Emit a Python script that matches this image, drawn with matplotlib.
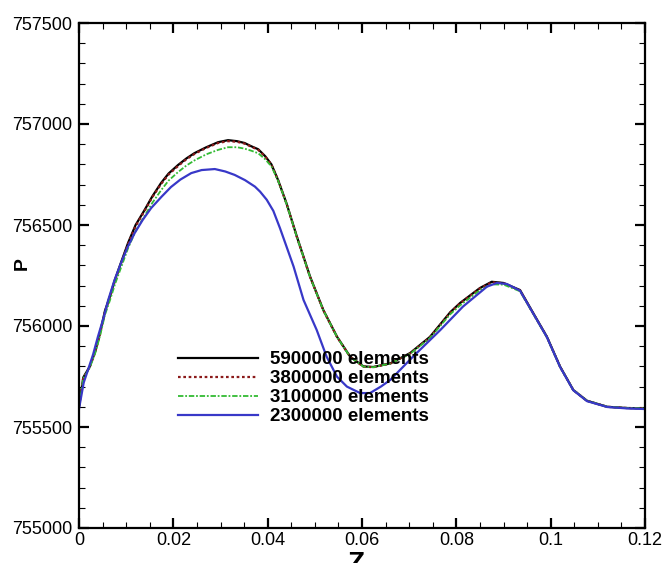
import matplotlib
matplotlib.use('Agg')
import matplotlib.pyplot as plt
from matplotlib.ticker import MultipleLocator, FuncFormatter

plt.rcParams['font.family'] = ['Liberation Sans', 'DejaVu Sans']

# 5900000 elements
z_5900 = [0, 0.0009, 0.0023, 0.0035, 0.0045, 0.0055, 0.0066, 0.0076, 0.009, 0.0104,
          0.012, 0.0139, 0.0155, 0.0174, 0.019, 0.021, 0.0228, 0.0245, 0.027, 0.0295,
          0.0316, 0.0335, 0.0351, 0.0365, 0.038, 0.0395, 0.0408, 0.0422, 0.044, 0.0462,
          0.049, 0.0518, 0.0547, 0.0575, 0.0603, 0.0624, 0.066, 0.0702, 0.0744, 0.0787,
          0.0808, 0.085, 0.0875, 0.09, 0.0935, 0.0963, 0.0992, 0.102, 0.1048, 0.1077,
          0.112, 0.1162, 0.12]
p_5900 = [755600, 755745, 755800, 755880, 755970, 756075, 756150, 756228, 756320, 756411,
          756500, 756574, 756640, 756708, 756755, 756797, 756830, 756856, 756885, 756910,
          756920, 756915, 756906, 756890, 756875, 756840, 756800, 756723, 756607, 756442,
          756244, 756079, 755947, 755848, 755800, 755797, 755815, 755866, 755946, 756068,
          756114, 756188, 756219, 756213, 756178, 756064, 755947, 755799, 755683, 755630,
          755600, 755594, 755592]

# 3800000 elements
z_3800 = z_5900
p_3800 = [755600, 755742, 755798, 755876, 755965, 756070, 756146, 756222, 756315, 756405,
          756494, 756570, 756636, 756703, 756750, 756792, 756826, 756852, 756882, 756906,
          756915, 756912, 756903, 756888, 756872, 756838, 756798, 756722, 756605, 756440,
          756242, 756078, 755946, 755847, 755799, 755796, 755814, 755864, 755944, 756066,
          756112, 756186, 756216, 756212, 756176, 756062, 755946, 755798, 755683, 755630,
          755600, 755594, 755592]

# 3100000 elements
z_3100 = z_5900
p_3100 = [755600, 755740, 755795, 755870, 755955, 756055, 756130, 756205, 756295, 756385,
          756470, 756545, 756608, 756672, 756720, 756762, 756795, 756820, 756850, 756872,
          756885, 756885, 756878, 756868, 756855, 756825, 756790, 756720, 756605, 756440,
          756242, 756078, 755946, 755847, 755799, 755796, 755814, 755862, 755940, 756058,
          756102, 756178, 756206, 756205, 756172, 756060, 755944, 755797, 755683, 755630,
          755600, 755594, 755592]

# 2300000 elements
z_2300 = [0, 0.001, 0.0019, 0.003, 0.004, 0.0052, 0.0062, 0.0075, 0.0089, 0.0103,
          0.0118, 0.0135, 0.0153, 0.0175, 0.0195, 0.0215, 0.0238, 0.026, 0.0288, 0.031,
          0.033, 0.0352, 0.0373, 0.0384, 0.0398, 0.0412, 0.0426, 0.044, 0.0455, 0.0476,
          0.0504, 0.0525, 0.0547, 0.0568, 0.0596, 0.0617, 0.064, 0.066, 0.0708, 0.0766,
          0.0814, 0.0865, 0.0886, 0.0907, 0.0935, 0.0963, 0.0992, 0.102, 0.1048, 0.1077,
          0.112, 0.1162, 0.12]
p_2300 = [755590, 755720, 755782, 755860, 755946, 756040, 756129, 756225, 756312, 756390,
          756460, 756525, 756584, 756640, 756688, 756725, 756757, 756772, 756777, 756765,
          756748, 756722, 756690, 756665, 756625, 756570, 756485, 756393, 756294, 756129,
          755980, 755848, 755749, 755700, 755668, 755668, 755700, 755733, 755848, 755980,
          756096, 756195, 756213, 756208, 756175, 756062, 755945, 755797, 755682, 755628,
          755599, 755592, 755589]

fig = plt.figure(figsize=(6.62, 5.63), dpi=100)
ax = fig.add_axes([79 / 662, 1 - 528 / 563, 566 / 662, 505 / 563])

ax.plot(z_5900, p_5900, color='black', lw=1.6, label='5900000 elements')
ax.plot(z_3800, p_3800, color='#8b1a1a', lw=1.6, linestyle=(0, (1.2, 1.2)), label='3800000 elements')
ax.plot(z_3100, p_3100, color='#33bb33', lw=1.3, linestyle=(0, (3, 1, 1, 1)), label='3100000 elements')
ax.plot(z_2300, p_2300, color='#3838c8', lw=1.6, label='2300000 elements')

ax.set_xlim(0, 0.12)
ax.set_ylim(755000, 757500)
ax.xaxis.set_major_locator(MultipleLocator(0.02))
ax.xaxis.set_minor_locator(MultipleLocator(0.005))
ax.yaxis.set_major_locator(MultipleLocator(500))
ax.yaxis.set_minor_locator(MultipleLocator(100))
ax.xaxis.set_major_formatter(FuncFormatter(lambda v, p: '%g' % round(v, 4)))
ax.yaxis.set_major_formatter(FuncFormatter(lambda v, p: '%d' % v))

ax.tick_params(which='both', direction='in', top=True, right=True, labelsize=13)
ax.tick_params(which='major', length=7, width=1.6)
ax.tick_params(which='minor', length=4, width=0.8)
ax.tick_params(axis='y', pad=5)
ax.tick_params(axis='x', pad=3)
for s in ax.spines.values():
    s.set_linewidth(1.6)

# Z sits low, partly clipped by the bottom edge as in the source image
ax.set_xlabel('Z', fontsize=20, fontweight='bold')
ax.xaxis.set_label_coords(0.488, -0.046)
ax.set_ylabel('P', fontsize=14, fontweight='bold')
ax.yaxis.set_label_coords(-0.085, 0.523)

ax.legend(loc='upper left', bbox_to_anchor=(178 / 662, 1 - 351 / 563),
          bbox_transform=fig.transFigure, frameon=False, borderpad=0,
          borderaxespad=0, handlelength=4.27, handletextpad=0.64,
          labelspacing=0.1, prop={'weight': 'bold', 'size': 13.5})

fig.savefig('out.png', dpi=100)
